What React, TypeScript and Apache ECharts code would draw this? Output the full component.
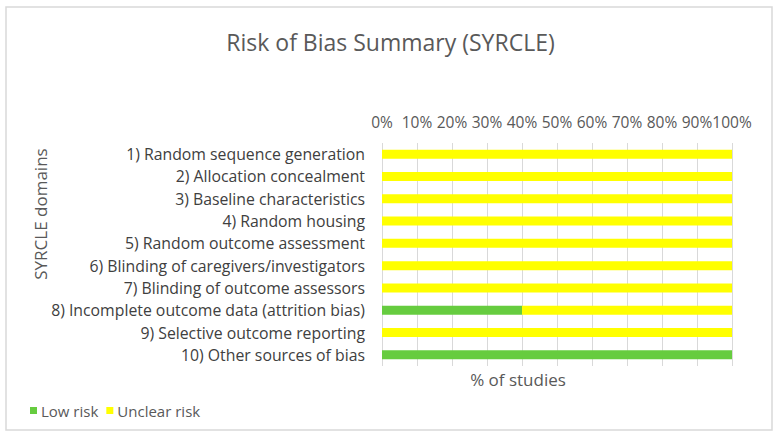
import React, { useEffect, useRef } from "react";
import * as echarts from "echarts";

const domains = [
  "1) Random sequence generation",
  "2) Allocation concealment",
  "3) Baseline characteristics",
  "4) Random housing",
  "5) Random outcome assessment",
  "6) Blinding of caregivers/investigators",
  "7) Blinding of outcome assessors",
  "8) Incomplete outcome data (attrition bias)",
  "9) Selective outcome reporting",
  "10) Other sources of bias",
];

const lowRisk = [0, 0, 0, 0, 0, 0, 0, 40, 0, 100];
const unclearRisk = [100, 100, 100, 100, 100, 100, 100, 60, 100, 0];

const FONT = "'Open Sans', Lato, sans-serif";

export default function App() {
  const ref = useRef<HTMLDivElement>(null);

  useEffect(() => {
    if (!ref.current) return;
    const chart = echarts.init(ref.current, undefined, { renderer: "svg" });
    chart.setOption({
      animation: false,
      backgroundColor: "#ffffff",
      textStyle: { fontFamily: FONT },
      title: {
        text: "Risk of Bias Summary (SYRCLE)",
        left: "center",
        top: 25,
        textStyle: { fontFamily: FONT, fontSize: 23, fontWeight: "normal", color: "#595959" },
      },
      legend: {
        left: 25,
        top: 398,
        icon: "rect",
        itemWidth: 7,
        itemHeight: 7,
        itemGap: 8,
        textStyle: { fontFamily: FONT, fontSize: 15, color: "#595959", padding: [0, 0, 0, -1] },
        data: ["Low risk", "Unclear risk"],
      },
      grid: { left: 382, right: 49, top: 143, bottom: 72, containLabel: false },
      xAxis: {
        type: "value",
        position: "top",
        min: 0,
        max: 100,
        interval: 10,
        axisLine: { show: false },
        axisTick: { show: false },
        splitLine: { show: true, lineStyle: { color: "#d9d9d9", width: 1 } },
        axisLabel: {
          formatter: "{value}%",
          fontFamily: FONT,
          fontSize: 15.5,
          color: "#595959",
          margin: 13,
        },
      },
      yAxis: {
        type: "category",
        inverse: true,
        data: domains,
        axisLine: { show: false },
        axisTick: { show: false },
        axisLabel: { fontFamily: FONT, fontSize: 15.8, color: "#404040", margin: 17 },
      },
      graphic: [
        {
          type: "rect",
          shape: { x: 6, y: 7, width: 766, height: 423 },
          style: { fill: "none", stroke: "#d9d9d9", lineWidth: 1.5 },
          silent: true,
        },
        {
          type: "text",
          x: 518,
          y: 379,
          style: {
            text: "% of studies",
            fontFamily: FONT,
            fontSize: 17,
            fill: "#595959",
            textAlign: "center",
            textVerticalAlign: "middle",
          },
        },
        {
          type: "text",
          x: 40,
          y: 214,
          rotation: Math.PI / 2,
          style: {
            text: "SYRCLE domains",
            fontFamily: FONT,
            fontSize: 17,
            fill: "#595959",
            textAlign: "center",
            textVerticalAlign: "middle",
          },
        },
      ],
      series: [
        {
          name: "Low risk",
          type: "bar",
          stack: "total",
          barWidth: 9,
          itemStyle: { color: "#66cc3f" },
          data: lowRisk,
        },
        {
          name: "Unclear risk",
          type: "bar",
          stack: "total",
          barWidth: 9,
          itemStyle: { color: "#ffff00" },
          data: unclearRisk,
        },
      ],
    });
    return () => chart.dispose();
  }, []);

  return (
    <div
      ref={ref}
      style={{ position: "fixed", left: 0, top: 0, width: 781, height: 438 }}
    />
  );
}
